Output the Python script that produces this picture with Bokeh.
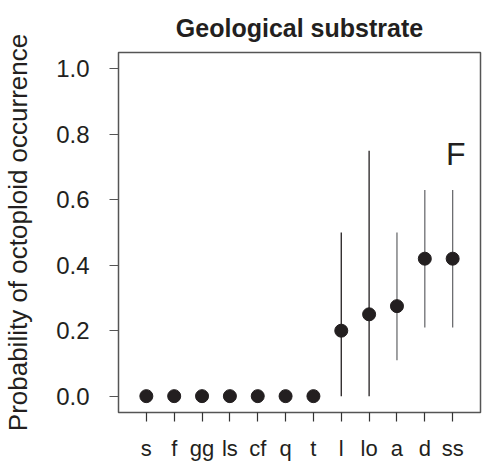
from bokeh.plotting import figure
from bokeh.models import Range1d, FixedTicker, Label, ColumnDataSource, PrintfTickFormatter
from bokeh.embed import file_html
from bokeh.resources import INLINE

title_text = "Geological substrate"
categories = ["s", "f", "gg", "ls", "cf", "q", "t", "l", "lo", "a", "d", "ss"]
prob = [0.0, 0.0, 0.0, 0.0, 0.0, 0.0, 0.0, 0.20, 0.25, 0.275, 0.42, 0.42]
lower = [0.0, 0.0, 0.0, 0.0, 0.0, 0.0, 0.0, 0.0, 0.0, 0.11, 0.21, 0.21]
upper = [0.0, 0.0, 0.0, 0.0, 0.0, 0.0, 0.0, 0.50, 0.75, 0.50, 0.63, 0.63]
y_ticks = [0.0, 0.2, 0.4, 0.6, 0.8, 1.0]
ci_colors = ["#231f20"] * 9 + ["#6d6e71"] * 3

FONT = "Liberation Sans"
TXT = "#231f20"

xpos = list(range(1, len(categories) + 1))
src = ColumnDataSource(dict(x=xpos, p=prob, lo=lower, hi=upper, c=ci_colors))

p = figure(width=485, height=463, x_range=Range1d(0, 13), y_range=Range1d(-0.05, 1.05),
           output_backend="svg", toolbar_location=None,
           min_border_left=118, min_border_right=5, min_border_top=52, min_border_bottom=51,
           title=title_text)

p.title.align = "center"
p.title.text_font = FONT
p.title.text_font_size = "25px"
p.title.text_font_style = "bold"
p.title.text_color = TXT
p.title.standoff = 22

p.grid.visible = False
p.outline_line_color = "#555555"
p.outline_line_width = 1.5
p.background_fill_color = "white"
p.border_fill_color = "white"

p.segment(x0="x", y0="lo", x1="x", y1="hi", line_color="c", line_width=1.3, source=src)
p.scatter(x="x", y="p", size=13, fill_color="#231f20", line_color="#231f20", source=src)

xa = p.xaxis[0]
xa.ticker = FixedTicker(ticks=xpos)
xa.major_label_overrides = {i: c for i, c in zip(xpos, categories)}
xa.minor_tick_line_color = None
xa.axis_line_color = None
xa.major_tick_in = 0
xa.major_tick_out = 9
xa.major_tick_line_color = "#333333"
xa.major_tick_line_width = 1.2
xa.major_label_text_font = FONT
xa.major_label_text_font_size = "22px"
xa.major_label_text_color = TXT
xa.major_label_standoff = 14

ya = p.yaxis[0]
ya.ticker = FixedTicker(ticks=y_ticks)
ya.formatter = PrintfTickFormatter(format="%.1f")
ya.minor_tick_line_color = None
ya.axis_line_color = None
ya.major_tick_in = 0
ya.major_tick_out = 9
ya.major_tick_line_color = "#555555"
ya.major_tick_line_width = 1.2
ya.major_label_text_font = FONT
ya.major_label_text_font_size = "24px"
ya.major_label_text_color = TXT
ya.major_label_standoff = 20
ya.major_label_orientation = "horizontal"
ya.axis_label = "Probability of octoploid occurrence"
ya.axis_label_text_font = FONT
ya.axis_label_text_font_size = "26px"
ya.axis_label_text_font_style = "normal"
ya.axis_label_text_color = TXT
ya.axis_label_standoff = 20

p.add_layout(Label(x=12.46, y=0.74, text="F", text_align="right", text_baseline="alphabetic",
                   text_font=FONT, text_font_size="32px", text_color=TXT))

open("out.html", "w").write(file_html(p, INLINE))
